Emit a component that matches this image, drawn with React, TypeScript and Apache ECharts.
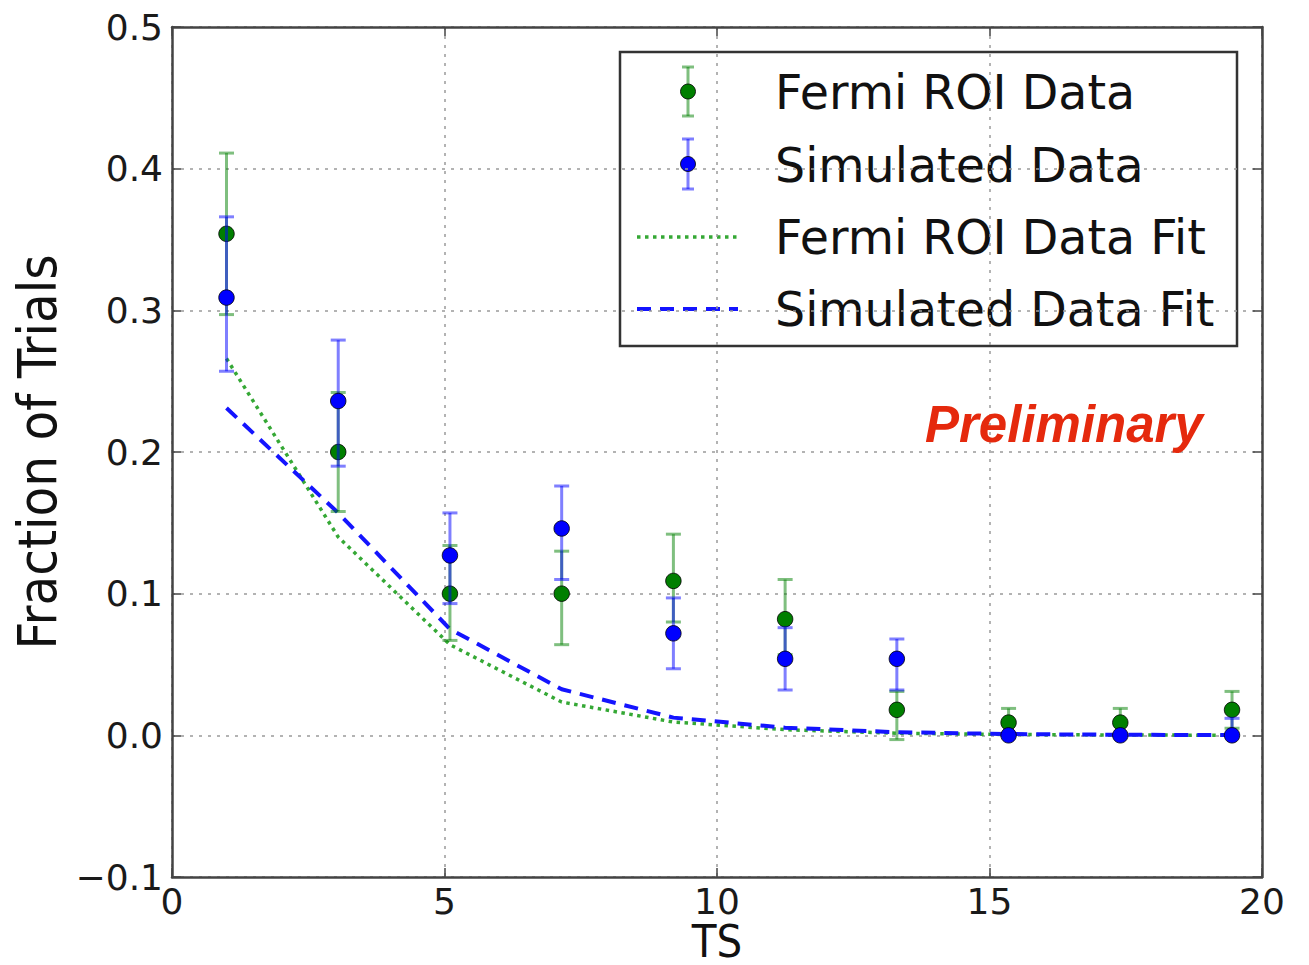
import React, { useEffect, useRef } from "react";
import * as echarts from "echarts";

// ---- data ----
const ts = [1.0, 3.05, 5.1, 7.15, 9.2, 11.25, 13.3, 15.35, 17.4, 19.45];

const fermiY = [0.354, 0.2, 0.1, 0.1, 0.109, 0.082, 0.018, 0.009, 0.009, 0.018];
const fermiLo = [0.297, 0.158, 0.067, 0.064, 0.08, 0.057, -0.003, 0.0, 0.0, 0.005];
const fermiHi = [0.411, 0.242, 0.134, 0.13, 0.142, 0.11, 0.031, 0.019, 0.019, 0.031];

const simY = [0.309, 0.236, 0.127, 0.146, 0.072, 0.054, 0.054, 0.0, 0.0, 0.0];
const simLo = [0.257, 0.19, 0.093, 0.11, 0.047, 0.032, 0.032, 0.0, 0.0, 0.0];
const simHi = [0.366, 0.279, 0.157, 0.176, 0.097, 0.076, 0.068, 0.0, 0.0, 0.012];

const fermiFit = [0.266, 0.14, 0.064, 0.0235, 0.0094, 0.004, 0.0015, 0.0006, 0.0002, 0.0001];
const simFit = [0.231, 0.157, 0.075, 0.0325, 0.0125, 0.0054, 0.0022, 0.0009, 0.0004, 0.0002];

const xTicks = { min: 0, max: 20, interval: 5 };
const yTicks = { min: -0.1, max: 0.5, interval: 0.1 };

const legendNames = ["Fermi ROI Data", "Simulated Data", "Fermi ROI Data Fit", "Simulated Data Fit"];

const GREEN = "#007f00";
const GREEN_BAR = "rgba(0,128,0,0.5)";
const BLUE = "#0000ff";
const BLUE_BAR = "rgba(0,0,255,0.5)";
const GREEN_FIT = "#35a835";
const BLUE_FIT = "#1414ff";
const FRAME = "#444";
const FONT = "DejaVu Sans";
const COND = "DejaVu Sans Condensed, DejaVu Sans";

function errRender(color: string) {
  return (params: any, api: any) => {
    const x = api.value(0);
    const lo = api.value(1);
    const hi = api.value(2);
    if (hi - lo <= 1e-9) return { type: "group", children: [] };
    const pLo = api.coord([x, lo]);
    const pHi = api.coord([x, hi]);
    const w = 7.5;
    const style = { stroke: color, lineWidth: 3 };
    return {
      type: "group",
      children: [
        { type: "line", shape: { x1: pLo[0], y1: pLo[1], x2: pHi[0], y2: pHi[1] }, style },
        { type: "line", shape: { x1: pLo[0] - w, y1: pLo[1], x2: pLo[0] + w, y2: pLo[1] }, style },
        { type: "line", shape: { x1: pHi[0] - w, y1: pHi[1], x2: pHi[0] + w, y2: pHi[1] }, style },
      ],
    };
  };
}

export default function App() {
  const ref = useRef<HTMLDivElement>(null);

  useEffect(() => {
    document.body.style.margin = "0";
    document.body.style.overflow = "hidden";
    const chart = echarts.init(ref.current!, null, { renderer: "svg" });

    const yFmt = (v: number) => {
      const s = Math.abs(v).toFixed(1);
      return v < -1e-9 ? "\u2212" + s : s;
    };

    const tickStyle = { inside: true, length: 9, lineStyle: { color: FRAME, width: 1.5 } };
    const lineStyle = { show: true, onZero: false, lineStyle: { color: FRAME, width: 2.5 } };
    const gridLine = { show: true, lineStyle: { color: "#9a9a9a", width: 1.5, type: [3, 6] } };

    const legendX = 620;
    const legendY = 52;
    const rowY = [92.5, 165, 237.5, 309.5];
    const iconX = 688;

    const option: any = {
      animation: false,
      backgroundColor: "#ffffff",
      grid: { left: 172, right: 47, top: 27, bottom: 88, containLabel: false, outerBoundsMode: "none" },
      xAxis: [
        {
          type: "value",
          ...xTicks,
          position: "bottom",
          name: "TS",
          nameLocation: "middle",
          nameMoveOverlap: false,
          nameGap: 46,
          nameTextStyle: { fontSize: 45, lineHeight: 36, fontFamily: COND, color: "#111" },
          axisLine: lineStyle,
          axisTick: tickStyle,
          axisLabel: { fontSize: 36, fontFamily: FONT, color: "#1a1a1a", margin: 6 },
          splitLine: gridLine,
        },
        {
          type: "value",
          ...xTicks,
          position: "top",
          axisLine: lineStyle,
          axisTick: tickStyle,
          axisLabel: { show: false },
          splitLine: { show: false },
        },
      ],
      yAxis: [
        {
          type: "value",
          ...yTicks,
          position: "left",
          name: "Fraction of Trials",
          nameLocation: "middle",
          nameGap: 88,
          nameTextStyle: { fontSize: 54, fontFamily: COND, color: "#111" },
          axisLine: lineStyle,
          axisTick: tickStyle,
          axisLabel: { fontSize: 36, fontFamily: FONT, color: "#1a1a1a", margin: 9, formatter: yFmt },
          splitLine: gridLine,
        },
        {
          type: "value",
          ...yTicks,
          position: "right",
          axisLine: lineStyle,
          axisTick: tickStyle,
          axisLabel: { show: false },
          splitLine: { show: false },
        },
      ],
      series: [
        {
          name: legendNames[2],
          type: "line",
          data: ts.map((x, i) => [x, fermiFit[i]]),
          showSymbol: false,
          symbol: "none",
          lineStyle: { color: GREEN_FIT, width: 3.5, type: [3.5, 4.5] },
          z: 2,
        },
        {
          name: legendNames[3],
          type: "line",
          data: ts.map((x, i) => [x, simFit[i]]),
          showSymbol: false,
          symbol: "none",
          lineStyle: { color: BLUE_FIT, width: 4, type: [14, 9] },
          z: 3,
        },
        {
          name: legendNames[0] + " errors",
          type: "custom",
          data: ts.map((x, i) => [x, fermiLo[i], fermiHi[i]]),
          renderItem: errRender(GREEN_BAR),
          z: 4,
        },
        {
          name: legendNames[0],
          type: "scatter",
          data: ts.map((x, i) => [x, fermiY[i]]),
          symbolSize: 15.5,
          itemStyle: { color: GREEN, borderColor: "#000", borderWidth: 0.8, opacity: 1 },
          z: 5,
        },
        {
          name: legendNames[1] + " errors",
          type: "custom",
          data: ts.map((x, i) => [x, simLo[i], simHi[i]]),
          renderItem: errRender(BLUE_BAR),
          z: 6,
        },
        {
          name: legendNames[1],
          type: "scatter",
          data: ts.map((x, i) => [x, simY[i]]),
          symbolSize: 15.5,
          itemStyle: { color: BLUE, borderColor: "#000", borderWidth: 0.8, opacity: 1 },
          z: 7,
        },
      ],
      graphic: [
        {
          type: "text",
          x: 925,
          y: 424,
          style: {
            text: "Preliminary",
            fontFamily: "Liberation Sans, Arial",
            fontWeight: "bold",
            fontStyle: "italic",
            fontSize: 51,
            fill: "#e5290d",
            verticalAlign: "middle",
            align: "left",
          },
          z: 10,
        },
        {
          type: "group",
          z: 20,
          children: [
            {
              type: "rect",
              shape: { x: legendX, y: legendY, width: 617, height: 294 },
              style: { fill: "#fff", stroke: "#333", lineWidth: 2.5 },
            },
            // row 1 icon: green error bar + dot
            { type: "line", shape: { x1: iconX, y1: 67, x2: iconX, y2: 116 }, style: { stroke: GREEN_BAR, lineWidth: 3 } },
            { type: "line", shape: { x1: iconX - 6, y1: 67, x2: iconX + 6, y2: 67 }, style: { stroke: GREEN_BAR, lineWidth: 3 } },
            { type: "line", shape: { x1: iconX - 6, y1: 116, x2: iconX + 6, y2: 116 }, style: { stroke: GREEN_BAR, lineWidth: 3 } },
            { type: "circle", shape: { cx: iconX, cy: 91.5, r: 7.5 }, style: { fill: GREEN, stroke: "#000", lineWidth: 0.8 } },
            // row 2 icon: blue error bar + dot
            { type: "line", shape: { x1: iconX, y1: 139, x2: iconX, y2: 189 }, style: { stroke: BLUE_BAR, lineWidth: 3 } },
            { type: "line", shape: { x1: iconX - 6, y1: 139, x2: iconX + 6, y2: 139 }, style: { stroke: BLUE_BAR, lineWidth: 3 } },
            { type: "line", shape: { x1: iconX - 6, y1: 189, x2: iconX + 6, y2: 189 }, style: { stroke: BLUE_BAR, lineWidth: 3 } },
            { type: "circle", shape: { cx: iconX, cy: 164, r: 7.5 }, style: { fill: BLUE, stroke: "#000", lineWidth: 0.8 } },
            // row 3 icon: green dotted
            {
              type: "line",
              shape: { x1: 637, y1: 237, x2: 738, y2: 237 },
              style: { stroke: GREEN_FIT, lineWidth: 3.5, lineDash: [3.5, 4.5] },
            },
            // row 4 icon: blue dashed
            {
              type: "line",
              shape: { x1: 637, y1: 309, x2: 738, y2: 309 },
              style: { stroke: BLUE_FIT, lineWidth: 4, lineDash: [14, 9] },
            },
            ...legendNames.map((t, i) => ({
              type: "text",
              x: 775,
              y: rowY[i],
              style: {
                text: t,
                fontFamily: FONT,
                fontSize: 47.5,
                fill: "#111",
                verticalAlign: "middle",
                align: "left",
              },
            })),
          ],
        },
      ],
    };

    chart.setOption(option);
    return () => chart.dispose();
  }, []);

  return <div ref={ref} style={{ width: 1309, height: 965 }} />;
}
